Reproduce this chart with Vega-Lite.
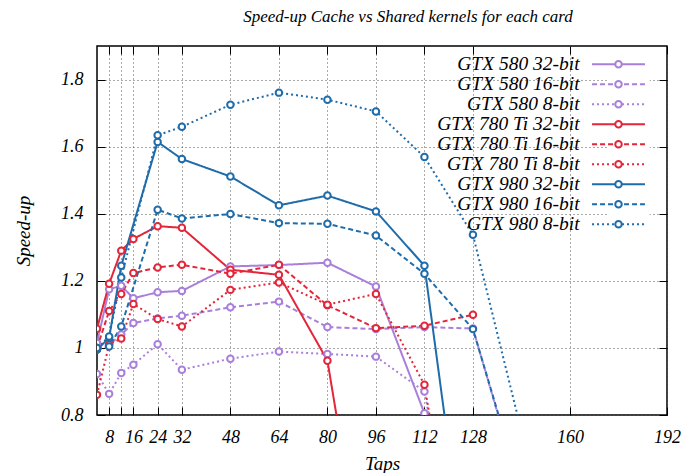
{
  "$schema": "https://vega.github.io/schema/vega-lite/v6.json",
  "width": 570,
  "height": 369,
  "autosize": "none",
  "padding": {"left": 97, "top": 46, "right": 30, "bottom": 58},
  "background": "white",
  "title": {"text": "Speed-up Cache vs Shared kernels for each card", "font": "Liberation Serif", "fontStyle": "italic", "fontWeight": "normal", "fontSize": 17, "anchor": "middle", "dx": 26, "offset": 20, "color": "black"},
  "data": {"values": [
    {"series": "GTX 580 32-bit", "taps": 4, "speedup": 1.015},
    {"series": "GTX 580 32-bit", "taps": 8, "speedup": 1.175},
    {"series": "GTX 580 32-bit", "taps": 12, "speedup": 1.185},
    {"series": "GTX 580 32-bit", "taps": 16, "speedup": 1.148},
    {"series": "GTX 580 32-bit", "taps": 24, "speedup": 1.166},
    {"series": "GTX 580 32-bit", "taps": 32, "speedup": 1.17},
    {"series": "GTX 580 32-bit", "taps": 48, "speedup": 1.243},
    {"series": "GTX 580 32-bit", "taps": 64, "speedup": 1.247},
    {"series": "GTX 580 32-bit", "taps": 80, "speedup": 1.254},
    {"series": "GTX 580 32-bit", "taps": 96, "speedup": 1.183},
    {"series": "GTX 580 32-bit", "taps": 112, "speedup": 0.805},
    {"series": "GTX 580 32-bit", "taps": 128, "speedup": 0.45},
    {"series": "GTX 580 16-bit", "taps": 4, "speedup": 1.0},
    {"series": "GTX 580 16-bit", "taps": 8, "speedup": 1.01},
    {"series": "GTX 580 16-bit", "taps": 12, "speedup": 1.04},
    {"series": "GTX 580 16-bit", "taps": 16, "speedup": 1.074},
    {"series": "GTX 580 16-bit", "taps": 24, "speedup": 1.088},
    {"series": "GTX 580 16-bit", "taps": 32, "speedup": 1.096},
    {"series": "GTX 580 16-bit", "taps": 48, "speedup": 1.121},
    {"series": "GTX 580 16-bit", "taps": 64, "speedup": 1.138},
    {"series": "GTX 580 16-bit", "taps": 80, "speedup": 1.062},
    {"series": "GTX 580 16-bit", "taps": 96, "speedup": 1.056},
    {"series": "GTX 580 16-bit", "taps": 112, "speedup": 1.062},
    {"series": "GTX 580 16-bit", "taps": 128, "speedup": 1.058},
    {"series": "GTX 580 16-bit", "taps": 144, "speedup": 0.56},
    {"series": "GTX 580 8-bit", "taps": 4, "speedup": 0.922},
    {"series": "GTX 580 8-bit", "taps": 8, "speedup": 0.863},
    {"series": "GTX 580 8-bit", "taps": 12, "speedup": 0.925},
    {"series": "GTX 580 8-bit", "taps": 16, "speedup": 0.95},
    {"series": "GTX 580 8-bit", "taps": 24, "speedup": 1.011},
    {"series": "GTX 580 8-bit", "taps": 32, "speedup": 0.935},
    {"series": "GTX 580 8-bit", "taps": 48, "speedup": 0.968},
    {"series": "GTX 580 8-bit", "taps": 64, "speedup": 0.989},
    {"series": "GTX 580 8-bit", "taps": 80, "speedup": 0.982},
    {"series": "GTX 580 8-bit", "taps": 96, "speedup": 0.974},
    {"series": "GTX 580 8-bit", "taps": 112, "speedup": 0.87},
    {"series": "GTX 580 8-bit", "taps": 128, "speedup": 0.1},
    {"series": "GTX 780 Ti 32-bit", "taps": 4, "speedup": 1.057},
    {"series": "GTX 780 Ti 32-bit", "taps": 8, "speedup": 1.191},
    {"series": "GTX 780 Ti 32-bit", "taps": 12, "speedup": 1.29},
    {"series": "GTX 780 Ti 32-bit", "taps": 16, "speedup": 1.325},
    {"series": "GTX 780 Ti 32-bit", "taps": 24, "speedup": 1.363},
    {"series": "GTX 780 Ti 32-bit", "taps": 32, "speedup": 1.358},
    {"series": "GTX 780 Ti 32-bit", "taps": 48, "speedup": 1.233},
    {"series": "GTX 780 Ti 32-bit", "taps": 64, "speedup": 1.218},
    {"series": "GTX 780 Ti 32-bit", "taps": 80, "speedup": 0.962},
    {"series": "GTX 780 Ti 32-bit", "taps": 96, "speedup": 0.09},
    {"series": "GTX 780 Ti 16-bit", "taps": 4, "speedup": 1.0},
    {"series": "GTX 780 Ti 16-bit", "taps": 8, "speedup": 1.11},
    {"series": "GTX 780 Ti 16-bit", "taps": 12, "speedup": 1.161},
    {"series": "GTX 780 Ti 16-bit", "taps": 16, "speedup": 1.223},
    {"series": "GTX 780 Ti 16-bit", "taps": 24, "speedup": 1.24},
    {"series": "GTX 780 Ti 16-bit", "taps": 32, "speedup": 1.248},
    {"series": "GTX 780 Ti 16-bit", "taps": 48, "speedup": 1.221},
    {"series": "GTX 780 Ti 16-bit", "taps": 64, "speedup": 1.248},
    {"series": "GTX 780 Ti 16-bit", "taps": 80, "speedup": 1.127},
    {"series": "GTX 780 Ti 16-bit", "taps": 96, "speedup": 1.059},
    {"series": "GTX 780 Ti 16-bit", "taps": 112, "speedup": 1.066},
    {"series": "GTX 780 Ti 16-bit", "taps": 128, "speedup": 1.099},
    {"series": "GTX 780 Ti 8-bit", "taps": 4, "speedup": 0.86},
    {"series": "GTX 780 Ti 8-bit", "taps": 8, "speedup": 1.01},
    {"series": "GTX 780 Ti 8-bit", "taps": 12, "speedup": 1.028},
    {"series": "GTX 780 Ti 8-bit", "taps": 16, "speedup": 1.131},
    {"series": "GTX 780 Ti 8-bit", "taps": 24, "speedup": 1.086},
    {"series": "GTX 780 Ti 8-bit", "taps": 32, "speedup": 1.064},
    {"series": "GTX 780 Ti 8-bit", "taps": 48, "speedup": 1.173},
    {"series": "GTX 780 Ti 8-bit", "taps": 64, "speedup": 1.195},
    {"series": "GTX 780 Ti 8-bit", "taps": 80, "speedup": 1.129},
    {"series": "GTX 780 Ti 8-bit", "taps": 96, "speedup": 1.161},
    {"series": "GTX 780 Ti 8-bit", "taps": 112, "speedup": 0.89},
    {"series": "GTX 780 Ti 8-bit", "taps": 128, "speedup": 0.02},
    {"series": "GTX 980 32-bit", "taps": 4, "speedup": 0.995},
    {"series": "GTX 980 32-bit", "taps": 8, "speedup": 1.03},
    {"series": "GTX 980 32-bit", "taps": 12, "speedup": 1.245},
    {"series": "GTX 980 32-bit", "taps": 24, "speedup": 1.614},
    {"series": "GTX 980 32-bit", "taps": 32, "speedup": 1.563},
    {"series": "GTX 980 32-bit", "taps": 48, "speedup": 1.511},
    {"series": "GTX 980 32-bit", "taps": 64, "speedup": 1.425},
    {"series": "GTX 980 32-bit", "taps": 80, "speedup": 1.454},
    {"series": "GTX 980 32-bit", "taps": 96, "speedup": 1.407},
    {"series": "GTX 980 32-bit", "taps": 112, "speedup": 1.245},
    {"series": "GTX 980 32-bit", "taps": 128, "speedup": 0.166},
    {"series": "GTX 980 16-bit", "taps": 4, "speedup": 0.995},
    {"series": "GTX 980 16-bit", "taps": 8, "speedup": 1.004},
    {"series": "GTX 980 16-bit", "taps": 12, "speedup": 1.064},
    {"series": "GTX 980 16-bit", "taps": 24, "speedup": 1.412},
    {"series": "GTX 980 16-bit", "taps": 32, "speedup": 1.386},
    {"series": "GTX 980 16-bit", "taps": 48, "speedup": 1.399},
    {"series": "GTX 980 16-bit", "taps": 64, "speedup": 1.372},
    {"series": "GTX 980 16-bit", "taps": 80, "speedup": 1.37},
    {"series": "GTX 980 16-bit", "taps": 96, "speedup": 1.335},
    {"series": "GTX 980 16-bit", "taps": 112, "speedup": 1.221},
    {"series": "GTX 980 16-bit", "taps": 128, "speedup": 1.056},
    {"series": "GTX 980 16-bit", "taps": 144, "speedup": 0.571},
    {"series": "GTX 980 8-bit", "taps": 4, "speedup": 1.0},
    {"series": "GTX 980 8-bit", "taps": 8, "speedup": 1.034},
    {"series": "GTX 980 8-bit", "taps": 12, "speedup": 1.21},
    {"series": "GTX 980 8-bit", "taps": 24, "speedup": 1.634},
    {"series": "GTX 980 8-bit", "taps": 32, "speedup": 1.659},
    {"series": "GTX 980 8-bit", "taps": 48, "speedup": 1.725},
    {"series": "GTX 980 8-bit", "taps": 64, "speedup": 1.761},
    {"series": "GTX 980 8-bit", "taps": 80, "speedup": 1.74},
    {"series": "GTX 980 8-bit", "taps": 96, "speedup": 1.705},
    {"series": "GTX 980 8-bit", "taps": 112, "speedup": 1.569},
    {"series": "GTX 980 8-bit", "taps": 128, "speedup": 1.337},
    {"series": "GTX 980 8-bit", "taps": 144, "speedup": 0.751}
  ]},
  "layer": [
    {
      "mark": {"type": "line", "clip": true, "strokeWidth": 2},
      "encoding": {
        "x": {"field": "taps", "type": "quantitative",
          "scale": {"domain": [4, 192], "nice": false, "zero": false},
          "axis": {"orient": "bottom", "title": "Taps", "values": [8, 12, 16, 24, 32, 48, 64, 80, 96, 112, 128, 160, 192],
            "labelExpr": "datum.value == 12 ? '' : datum.label", "domain": false, "tickSize": -8, "tickColor": "black", "tickWidth": 1,
            "labelPadding": 21, "labelFont": "Liberation Serif", "labelFontStyle": "italic", "labelFontSize": 18, "labelColor": "black",
            "titleFont": "Liberation Serif", "titleFontStyle": "italic", "titleFontWeight": "normal", "titleFontSize": 19, "titleColor": "black", "titlePadding": 8,
            "grid": true, "gridDash": [1, 3], "gridColor": "#555", "gridWidth": 1, "labelFlush": false, "labelOverlap": false}},
        "y": {"field": "speedup", "type": "quantitative",
          "scale": {"domain": [0.8, 1.9], "nice": false, "zero": false},
          "axis": {"orient": "left", "title": "Speed-up", "values": [0.8, 1, 1.2, 1.4, 1.6, 1.8], "format": "~g",
            "domain": false, "tickSize": -8, "tickColor": "black", "tickWidth": 1,
            "labelPadding": 22, "labelFont": "Liberation Serif", "labelFontStyle": "italic", "labelFontSize": 18, "labelColor": "black",
            "titleFont": "Liberation Serif", "titleFontStyle": "italic", "titleFontWeight": "normal", "titleFontSize": 19, "titleColor": "black", "titlePadding": 27,
            "grid": true, "gridDash": [1, 3], "gridColor": "#555", "gridWidth": 1, "labelFlush": false, "labelOverlap": false}},
        "color": {"field": "series", "type": "nominal",
          "scale": {"domain": ["GTX 580 32-bit", "GTX 580 16-bit", "GTX 580 8-bit", "GTX 780 Ti 32-bit", "GTX 780 Ti 16-bit", "GTX 780 Ti 8-bit", "GTX 980 32-bit", "GTX 980 16-bit", "GTX 980 8-bit"],
            "range": ["#a97fdb", "#a97fdb", "#a97fdb", "#e4263a", "#e4263a", "#e4263a", "#1f6cab", "#1f6cab", "#1f6cab"]},
          "legend": null},
        "strokeDash": {"field": "series", "type": "nominal",
          "scale": {"domain": ["GTX 580 32-bit", "GTX 580 16-bit", "GTX 580 8-bit", "GTX 780 Ti 32-bit", "GTX 780 Ti 16-bit", "GTX 780 Ti 8-bit", "GTX 980 32-bit", "GTX 980 16-bit", "GTX 980 8-bit"],
            "range": [[1, 0], [5, 3], [2, 3], [1, 0], [5, 3], [2, 3], [1, 0], [5, 3], [2, 3]]},
          "legend": {"title": null, "orient": "none", "legendX": 511.75, "legendY": 8.5, "symbolType": "M-10,0H10", "symbolSize": 28, "symbolStrokeWidth": 2,
            "labelAlign": "right", "labelOffset": -48.6, "labelFont": "Liberation Serif", "labelFontStyle": "italic", "labelFontWeight": "normal", "labelFontSize": 19.5, "labelColor": "black",
            "labelLimit": 400, "rowPadding": -2.6, "padding": 0, "fillColor": "white",
            "encode": {"symbols": {"update": {"stroke": {"signal": "indexof(datum.value, '580') >= 0 ? '#a97fdb' : indexof(datum.value, '780') >= 0 ? '#e4263a' : '#1f6cab'"}, "strokeWidth": {"value": 2}, "opacity": {"value": 1}}}}}}
      }
    },
    {
      "mark": {"type": "point", "clip": true, "filled": false, "fill": "white", "fillOpacity": 1, "size": 42, "strokeWidth": 2, "opacity": 1},
      "encoding": {
        "x": {"field": "taps", "type": "quantitative",
          "axis": {"orient": "top", "title": null, "labels": false, "grid": false, "domain": false, "tickSize": -8, "tickColor": "black", "values": [8, 12, 16, 24, 32, 48, 64, 80, 96, 112, 128, 160, 192]}},
        "y": {"field": "speedup", "type": "quantitative",
          "axis": {"orient": "right", "title": null, "labels": false, "grid": false, "domain": false, "tickSize": -8, "tickColor": "black", "values": [0.8, 1, 1.2, 1.4, 1.6, 1.8]}},
        "color": {"field": "series", "type": "nominal",
          "scale": {"domain": ["GTX 580 32-bit", "GTX 580 16-bit", "GTX 580 8-bit", "GTX 780 Ti 32-bit", "GTX 780 Ti 16-bit", "GTX 780 Ti 8-bit", "GTX 980 32-bit", "GTX 980 16-bit", "GTX 980 8-bit"],
            "range": ["#a97fdb", "#a97fdb", "#a97fdb", "#e4263a", "#e4263a", "#e4263a", "#1f6cab", "#1f6cab", "#1f6cab"]},
          "legend": {"title": null, "orient": "none", "legendX": 511.75, "legendY": 8.5, "symbolType": "circle", "symbolSize": 42, "symbolStrokeWidth": 2, "symbolFillColor": "white",
            "labelOpacity": 0, "labelFontSize": 19.5, "labelLimit": 1, "rowPadding": -2.6, "padding": 0}}
      }
    }
  ],
  "resolve": {"scale": {"color": "independent"}, "legend": {"color": "independent"}, "axis": {"x": "independent", "y": "independent"}},
  "config": {"view": {"stroke": "black", "strokeWidth": 1.5}}
}
